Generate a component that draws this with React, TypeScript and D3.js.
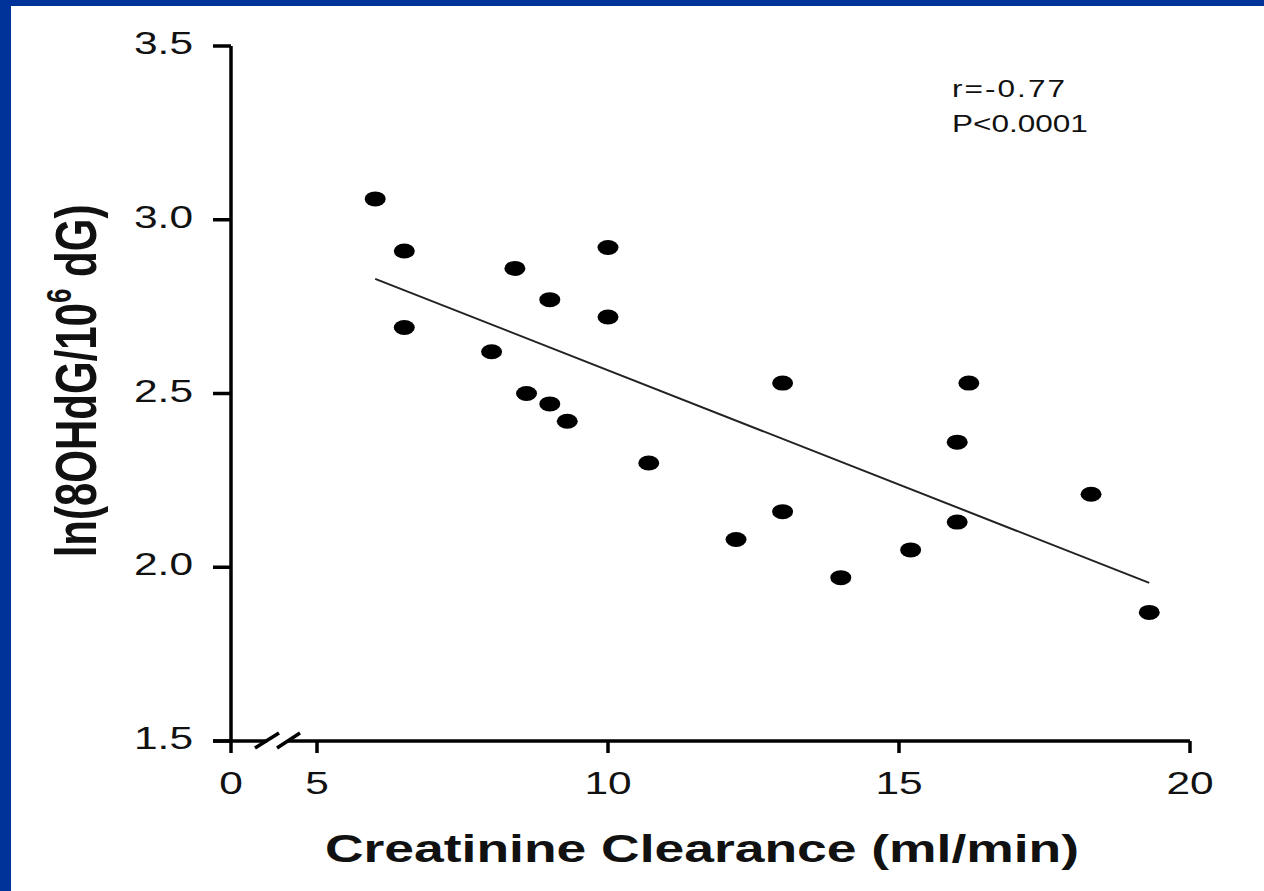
import React from "react";
import * as d3 from "d3";

const clearance = [6.0, 6.5, 6.5, 8.4, 9.0, 10.0, 10.0, 8.0, 8.6, 9.0, 9.3, 10.7, 13.0, 16.2, 16.0, 18.3, 13.0, 12.2, 16.0, 15.2, 14.0, 19.3];
const ln8ohdg = [3.06, 2.91, 2.69, 2.86, 2.77, 2.92, 2.72, 2.62, 2.50, 2.47, 2.42, 2.30, 2.53, 2.53, 2.36, 2.21, 2.16, 2.08, 2.13, 2.05, 1.97, 1.87];
const fitX = [6.0, 19.3];
const fitY = [2.83, 1.955];
const xTicks = [5, 10, 15, 20];
const yTicks = [1.5, 2.0, 2.5, 3.0, 3.5];
const statText = ["r=-0.77", "P<0.0001"];

const W = 1264;
const H = 891;
const SX = 1.37;

export default function App() {
  const x = d3.scaleLinear().domain([5, 20]).range([317, 1190]);
  const y = d3.scaleLinear().domain([1.5, 3.5]).range([741, 46]);
  const axisX = 231;
  const axisY = y(1.5);
  const line = d3.line<[number, number]>().x((d) => x(d[0])).y((d) => y(d[1]));
  const fit: [number, number][] = fitX.map((v, i) => [v, fitY[i]]);
  const font = "'Liberation Sans', Arial, Helvetica, sans-serif";
  const sw = 3.5;
  return (
    <svg width={W} height={H} style={{ position: "absolute", left: 0, top: 0, background: "#fff" }}>
      <rect x={0} y={0} width={W} height={H} fill="#fff" />
      <rect x={0} y={0} width={W} height={6} fill="#003399" />
      <rect x={0} y={0} width={11} height={H} fill="#003399" />

      {/* y axis */}
      <line x1={axisX} x2={axisX} y1={y(3.5)} y2={axisY + 12} stroke="#000" strokeWidth={sw} />
      {yTicks.map((t) => (
        <g key={"yt" + t}>
          <line x1={axisX - 18} x2={axisX} y1={y(t)} y2={y(t)} stroke="#000" strokeWidth={sw} />
          <text
            transform={`translate(193,${y(t) + 8}) scale(${SX},1)`}
            textAnchor="end"
            fontFamily={font}
            fontSize={31}
            fill="#111"
          >
            {t.toFixed(1)}
          </text>
        </g>
      ))}

      {/* x axis with break */}
      <line x1={axisX - 18} x2={267} y1={axisY} y2={axisY} stroke="#000" strokeWidth={sw} />
      <line x1={288} x2={x(20)} y1={axisY} y2={axisY} stroke="#000" strokeWidth={sw} />
      <line x1={255} x2={279} y1={axisY + 7} y2={axisY - 8} stroke="#000" strokeWidth={sw} />
      <line x1={277} x2={300} y1={axisY + 7} y2={axisY - 8} stroke="#000" strokeWidth={sw} />
      <text
        transform={`translate(${axisX},${axisY + 53}) scale(${SX},1)`}
        textAnchor="middle"
        fontFamily={font}
        fontSize={31}
        fill="#111"
      >
        0
      </text>
      {xTicks.map((t) => (
        <g key={"xt" + t}>
          <line x1={x(t)} x2={x(t)} y1={axisY} y2={axisY + 12} stroke="#000" strokeWidth={sw} />
          <text
            transform={`translate(${x(t)},${axisY + 53}) scale(${SX},1)`}
            textAnchor="middle"
            fontFamily={font}
            fontSize={31}
            fill="#111"
          >
            {t}
          </text>
        </g>
      ))}

      {/* regression line */}
      <path d={line(fit) || ""} fill="none" stroke="#222" strokeWidth={2} />

      {/* points */}
      {clearance.map((c, i) => (
        <ellipse key={"p" + i} cx={x(c)} cy={y(ln8ohdg[i])} rx={10.5} ry={7.5} fill="#000" />
      ))}

      {/* stats */}
      {statText.map((s, i) => (
        <text
          key={s}
          transform={`translate(952,${97 + i * 35}) scale(${SX},1)`}
          fontFamily={font}
          fontSize={23}
          letterSpacing={i === 0 ? 1.5 : 0}
          fill="#111"
        >
          {s}
        </text>
      ))}

      {/* axis titles */}
      <text
        transform={`translate(702,862) scale(${SX},1)`}
        textAnchor="middle"
        fontFamily={font}
        fontSize={39}
        fontWeight="bold"
        fill="#111"
      >
        Creatinine Clearance (ml/min)
      </text>
      <text
        transform={`translate(96,381) scale(${SX},1) rotate(-90)`}
        textAnchor="middle"
        fontFamily={font}
        fontSize={42}
        fontWeight="bold"
        fill="#111"
      >
        ln(8OHdG/10
        <tspan fontSize={26} dy={-18}>6</tspan>
        <tspan dy={18}> dG)</tspan>
      </text>
    </svg>
  );
}
